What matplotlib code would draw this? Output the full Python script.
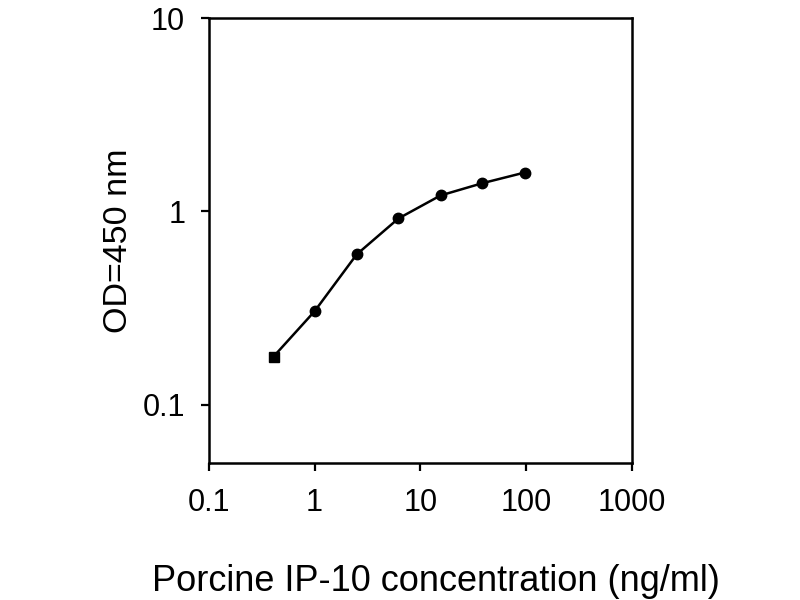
import matplotlib
matplotlib.use("Agg")
import matplotlib.pyplot as plt
from matplotlib.ticker import FixedLocator, NullLocator

# Standard curve
conc = [0.41, 1.0, 2.5, 6.2, 15.5, 38.5, 97.0]
od = [0.178, 0.305, 0.60, 0.92, 1.21, 1.40, 1.59]

x_ticks = [0.1, 1, 10, 100, 1000]
x_labels = ["0.1", "1", "10", "100", "1000"]
y_ticks = [0.1, 1, 10]
y_labels = ["0.1", "1", "10"]

plt.rcParams['font.family'] = ['Liberation Sans', 'DejaVu Sans']

fig = plt.figure(figsize=(8, 6), dpi=100)
ax = fig.add_axes([0.261, 0.228, 0.529, 0.742])

ax.plot(conc, od, color='black', lw=1.8, zorder=2)
ax.plot(conc[:1], od[:1], 's', color='black', ms=7, zorder=3)
ax.plot(conc[1:], od[1:], 'o', color='black', ms=7.5, zorder=3)

ax.set_xscale('log')
ax.set_yscale('log')
ax.set_xlim(0.1, 1000)
ax.set_ylim(0.05, 10)

ax.xaxis.set_major_locator(FixedLocator(x_ticks))
ax.xaxis.set_minor_locator(NullLocator())
ax.set_xticklabels(x_labels)
ax.yaxis.set_major_locator(FixedLocator(y_ticks))
ax.yaxis.set_minor_locator(NullLocator())
ax.set_yticklabels(y_labels)

ax.tick_params(direction='out', length=6, width=1.6, labelsize=22, color='black')
ax.tick_params(axis='x', pad=12)
ax.tick_params(axis='y', pad=11)
for s in ax.spines.values():
    s.set_linewidth(1.8)

ax.set_xlabel('Porcine IP-10 concentration (ng/ml)', fontsize=26, labelpad=33)
ax.xaxis.set_label_coords(0.537, -0.226)
ax.set_ylabel('OD=450 nm', fontsize=24.5, labelpad=6)

fig.savefig('out.png', dpi=100, facecolor='white')
